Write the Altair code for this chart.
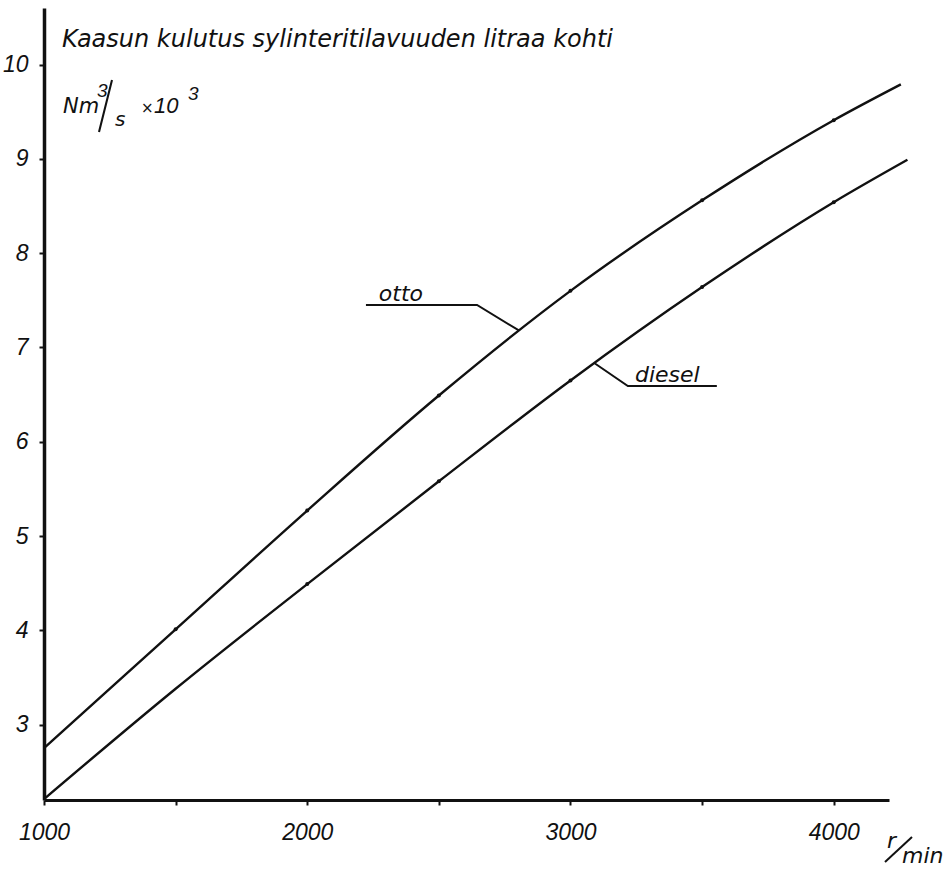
import altair as alt
import pandas as pd

# Gas consumption per litre of cylinder volume, Nm3/s x 10^3, against engine speed
otto_rpm = [1000, 1500, 2000, 2500, 3000, 3500, 4000, 4255]
otto_val = [2.75, 4.01, 5.27, 6.49, 7.60, 8.56, 9.41, 9.79]
diesel_rpm = [1000, 1500, 2000, 2500, 3000, 3500, 4000, 4280]
diesel_val = [2.21, 3.38, 4.49, 5.58, 6.65, 7.64, 8.54, 8.99]

# measured points marked with a dot on each curve
otto_dots = [1500, 2000, 2500, 3000, 3500, 4000]
diesel_dots = [2000, 2500, 3000, 3500, 4000]

# leader lines for the curve labels
otto_leader_rpm = [2223, 2645, 2804]
otto_leader_val = [7.45, 7.45, 7.18]
diesel_leader_rpm = [3093, 3218, 3556]
diesel_leader_val = [6.83, 6.59, 6.59]

y_ticks = [3, 4, 5, 6, 7, 8, 9, 10]
x_ticks = [1000, 1500, 2000, 2500, 3000, 3500, 4000]

INK = "#111111"
LETTER_FONT = "DejaVu Sans"
DIGIT_FONT = "Liberation Sans"

curves = pd.concat([
    pd.DataFrame({"rpm": otto_rpm, "val": otto_val, "engine": "otto"}),
    pd.DataFrame({"rpm": diesel_rpm, "val": diesel_val, "engine": "diesel"}),
])
dots = pd.concat([
    pd.DataFrame({"rpm": otto_dots,
                  "val": [otto_val[otto_rpm.index(r)] for r in otto_dots]}),
    pd.DataFrame({"rpm": diesel_dots,
                  "val": [diesel_val[diesel_rpm.index(r)] for r in diesel_dots]}),
])
leaders = pd.concat([
    pd.DataFrame({"rpm": otto_leader_rpm, "val": otto_leader_val,
                  "k": "otto", "i": [0, 1, 2]}),
    pd.DataFrame({"rpm": diesel_leader_rpm, "val": diesel_leader_val,
                  "k": "diesel", "i": [0, 1, 2]}),
])

x_scale = alt.Scale(domain=[1000, 4210], nice=False, zero=False)
y_scale = alt.Scale(domain=[2.2, 10.6], nice=False, zero=False)

x_axis = alt.Axis(
    values=x_ticks, format="d", title=None, grid=False,
    labelExpr="datum.value % 1000 == 0 ? datum.label : ''",
    domainColor=INK, domainWidth=3, tickColor=INK, tickWidth=2, tickSize=5,
    labelFont=DIGIT_FONT, labelFontStyle="italic", labelFontSize=23,
    labelColor=INK, labelPadding=16, labelFlush=False,
)
y_axis = alt.Axis(
    values=y_ticks, format="d", title=None, grid=False,
    domainColor=INK, domainWidth=3.5, tickColor=INK, tickWidth=2, tickSize=5,
    labelFont=DIGIT_FONT, labelFontStyle="italic", labelFontSize=23,
    labelColor=INK, labelPadding=11, labelFlush=False,
)

base = alt.Chart(curves).mark_line(
    color=INK, strokeWidth=2.4, interpolate="monotone"
).encode(
    x=alt.X("rpm:Q", scale=x_scale, axis=x_axis),
    y=alt.Y("val:Q", scale=y_scale, axis=y_axis),
    detail="engine:N",
)

dot_layer = alt.Chart(dots).mark_circle(color=INK, size=16, opacity=1).encode(
    x=alt.X("rpm:Q", scale=x_scale), y=alt.Y("val:Q", scale=y_scale)
)

leader_layer = alt.Chart(leaders).mark_line(color=INK, strokeWidth=2).encode(
    x=alt.X("rpm:Q", scale=x_scale), y=alt.Y("val:Q", scale=y_scale),
    detail="k:N", order="i:Q",
)

curve_labels = alt.Chart(pd.DataFrame({
    "rpm": [2272, 3245], "val": [7.49, 6.63], "name": ["otto", "diesel"],
})).mark_text(
    font=LETTER_FONT, fontStyle="italic", fontSize=22, color=INK,
    align="left", baseline="alphabetic",
).encode(
    x=alt.X("rpm:Q", scale=x_scale), y=alt.Y("val:Q", scale=y_scale),
    text="name:N",
)


def note(text, x, y, size, font=LETTER_FONT, align="left"):
    return alt.Chart(pd.DataFrame({"t": [text]})).mark_text(
        font=font, fontStyle="italic", fontSize=size, color=INK,
        align=align, baseline="alphabetic",
    ).encode(text="t:N", x=alt.value(x), y=alt.value(y))


def stroke(x1, y1, x2, y2, w=2):
    return alt.Chart(pd.DataFrame({"t": [0]})).mark_rule(
        color=INK, strokeWidth=w
    ).encode(x=alt.value(x1), y=alt.value(y1), x2=alt.value(x2), y2=alt.value(y2))


annotations = [
    note("Kaasun kulutus sylinteritilavuuden litraa kohti", 18, 39, 24),
    note("Nm", 19, 105, 21),
    note("3", 53, 89, 19, DIGIT_FONT),
    stroke(55, 124, 68, 72),
    note("s", 71, 118, 20),
    note("×", 97, 105, 15),
    note("10", 110, 105, 22, DIGIT_FONT),
    note("3", 144, 92, 19, DIGIT_FONT),
    note("r", 843, 840, 22),
    stroke(841, 854, 868, 829),
    note("min", 858, 855, 22),
]

chart = alt.layer(base, leader_layer, dot_layer, curve_labels, *annotations).properties(
    width=845, height=792,
    padding={"left": 44, "top": 8, "right": 57, "bottom": 70},
    autosize=alt.AutoSizeParams(type="none"),
    background="white",
).configure_view(stroke=None)

chart.save("out.html", embed_options={"renderer": "svg", "actions": False})
